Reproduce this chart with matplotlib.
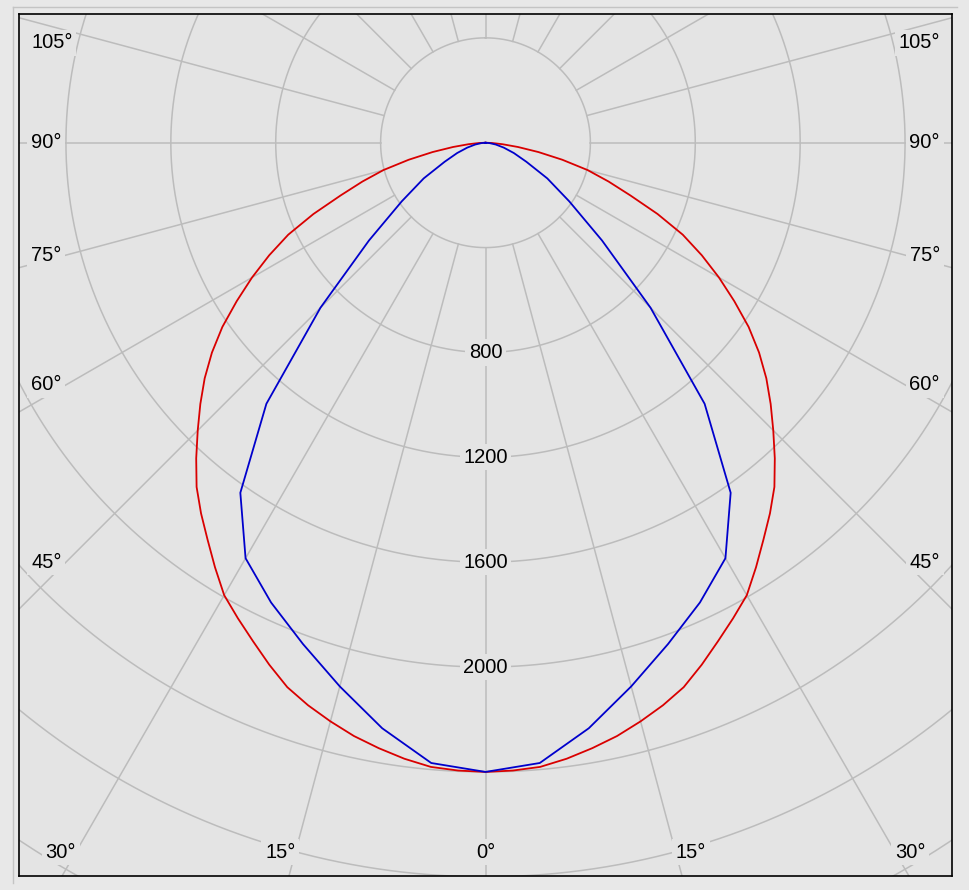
import numpy as np
import matplotlib
matplotlib.use("Agg")
import matplotlib.pyplot as plt
from matplotlib.lines import Line2D

# ---- data (luminous intensity, cd) ----
red_angles = [0, 2.5, 5, 7.5, 10, 12.5, 15, 17.5, 20, 22.5, 25, 27.5, 30, 32.5, 35, 37.5,
              40, 42.5, 45, 47.5, 50, 52.5, 55, 57.5, 60, 62.5, 65, 67.5, 70, 72.5, 75,
              77.5, 80, 82.5, 85, 87.5, 90]
red_cd = [2400, 2397, 2390, 2370, 2345, 2318, 2285, 2250, 2210, 2155, 2098, 2045, 1993,
          1920, 1848, 1782, 1714, 1633, 1552, 1475, 1398, 1315, 1225, 1125, 1028, 930,
          830, 710, 588, 492, 403, 300, 205, 125, 65, 25, 0]
blue_angles = [0, 5, 10, 15, 20, 25, 30, 35, 40, 45, 50, 55, 60, 65, 70, 75, 80, 85, 90]
blue_cd = [2400, 2375, 2268, 2147, 2035, 1935, 1830, 1630, 1300, 890, 580, 390,
           272, 172, 115, 72, 40, 15, 0]
ring_values = [400, 800, 1200, 1600, 2000, 2400, 2800, 3200, 3600]
ring_labels = [800, 1200, 1600, 2000]
spoke_angles = list(range(0, 360, 15))
angle_labels = [0, 15, 30, 45, 60, 75, 90, 105, 120, 135, 150, 165, 180]

# ---- style / layout ----
W, H = 969, 890
S = 0.2622            # px per cd
XMAX = 1779.0
YTOP = 491.0
YBOT = -2797.0
BG = "#e4e4e4"
FIGBG = "#e8e8e8"
GRID = "#bcbcbc"
FONT = "Liberation Sans"
FS = 14.5

fig = plt.figure(figsize=(W / 100, H / 100), dpi=100, facecolor=FIGBG)
ax = fig.add_axes([19 / W, (H - 876) / H, 933 / W, 862 / H])
ax.set_facecolor(BG)
ax.set_xlim(-XMAX, XMAX)
ax.set_ylim(YBOT, YTOP)
ax.set_xticks([])
ax.set_yticks([])
for sp in ax.spines.values():
    sp.set_color("black")
    sp.set_linewidth(1.2)

# outer panel edge
fig.add_artist(Line2D([13 / W, 13 / W], [1 - 883 / H, 1 - 6.7 / H], color="#c4c4c4", lw=1.0))
fig.add_artist(Line2D([13 / W, 957 / W], [1 - 6.7 / H, 1 - 6.7 / H], color="#c4c4c4", lw=1.0))

# rings
t = np.linspace(0, 2 * np.pi, 721)
for r in ring_values:
    ax.plot(r * np.sin(t), r * np.cos(t), color=GRID, lw=1.1, zorder=1)

# spokes (start at innermost ring)
for a in spoke_angles:
    th = np.radians(a)
    r0, r1 = ring_values[0], 5000
    ax.plot([r0 * np.sin(th), r1 * np.sin(th)], [-r0 * np.cos(th), -r1 * np.cos(th)],
            color=GRID, lw=1.1, zorder=1)

# curves (symmetric, C0-C180 plane)
for angs, vals, col in [(red_angles, red_cd, "#d90000"), (blue_angles, blue_cd, "#0000cc")]:
    ang = np.radians(np.array(angs, dtype=float))
    v = np.array(vals, dtype=float)
    full_ang = np.concatenate([-ang[::-1], ang[1:]])
    full_v = np.concatenate([v[::-1], v[1:]])
    ax.plot(full_v * np.sin(full_ang), -full_v * np.cos(full_ang), color=col, lw=1.3, zorder=3)

bbox = dict(boxstyle="square,pad=0.18", fc=BG, ec="none")

# radial value labels along 0 deg
for rv in ring_labels:
    ax.text(0, -rv, str(rv), ha="center", va="center", fontsize=FS, family=FONT,
            color="black", bbox=bbox, zorder=4)

# angle labels where the ray meets left/right/bottom frame
y_lab_bot = YBOT + 24 / S
y_lab_top = YTOP - 29 / S
x_in = XMAX - 47 / S
x_txt = XMAX - 12 / S
for a in angle_labels:
    th = np.radians(a)
    s_, c_ = np.sin(th), np.cos(th)
    t_side = XMAX / s_ if s_ > 1e-9 else np.inf
    t_bot = -YBOT / c_ if c_ > 1e-9 else np.inf
    t_top = YTOP / (-c_) if c_ < -1e-9 else np.inf
    tmin = min(t_side, t_bot, t_top)
    lab = f"{a}°"
    if tmin == t_top:
        continue
    if tmin == t_side:
        y = -x_in * c_ / s_
        y = min(max(y, y_lab_bot), y_lab_top)
        for sign, ha in [(-1, "left"), (1, "right")]:
            ax.text(sign * x_txt, y, lab, ha=ha, va="center", fontsize=FS, family=FONT,
                    bbox=bbox, zorder=4)
    else:
        xr = -y_lab_bot * s_ / c_
        if a == 0:
            ax.text(0, y_lab_bot, lab, ha="center", va="center", fontsize=FS, family=FONT,
                    bbox=bbox, zorder=4)
        else:
            ax.text(-xr, y_lab_bot, lab, ha="right", va="center", fontsize=FS, family=FONT,
                    bbox=bbox, zorder=4)
            ax.text(xr, y_lab_bot, lab, ha="left", va="center", fontsize=FS, family=FONT,
                    bbox=bbox, zorder=4)

fig.savefig("out.png", dpi=100, facecolor=FIGBG)
